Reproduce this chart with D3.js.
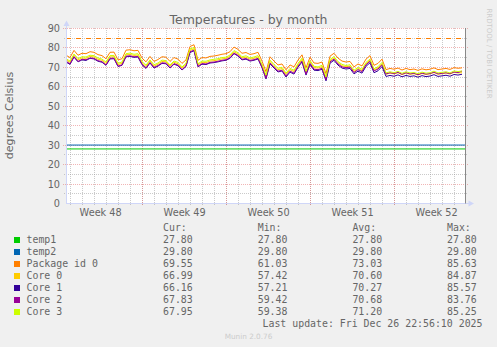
<!DOCTYPE html>
<html>
<head>
<meta charset="utf-8">
<script src="https://cdn.jsdelivr.net/npm/d3@7"></script>
<style>
  html, body { margin: 0; padding: 0; background: #f0f0f0; }
  svg { display: block; }
</style>
</head>
<body>
<svg id="chart" width="497" height="347"></svg>
<script>
// ---- data -------------------------------------------------------------
const seriesNames  = ["temp1", "temp2", "Package id 0", "Core 0", "Core 1", "Core 2", "Core 3"];
const seriesColors = ["#00cc00", "#0066b3", "#ff8000", "#ffcc00", "#330099", "#990099", "#ccff00"];

// 8-hour samples starting at this instant
const sampleStart = Date.UTC(2025, 10, 24, 14, 40);
const sampleStepHours = 8;

const temp1 = [27.8, 27.8];   // flat sensors: first and last sample
const temp2 = [29.8, 29.8];

const packageId0 = [76.0,74.8,78.5,76.0,77.0,76.8,77.8,77.5,76.3,75.8,
  74.2,77.5,77.6,73.6,74.2,78.6,78.8,78.3,78.5,74.5,
  72.6,75.4,72.8,73.8,75.2,75.0,72.8,74.8,74.0,71.8,
  73.6,80.5,81.4,73.4,74.8,74.6,75.4,75.6,76.0,76.5,
  76.8,77.8,80.2,79.0,77.0,77.4,76.4,76.8,77.5,73.0,
  67.5,75.2,73.0,71.0,71.5,68.5,71.0,70.0,73.5,76.2,
  69.5,75.0,72.0,71.8,72.5,66.5,75.5,77.0,74.5,73.0,
  72.5,72.8,70.0,71.5,70.5,74.0,75.8,70.8,71.8,74.0,
  68.6,69.2,68.8,69.4,68.4,69.2,68.6,68.9,68.2,69.0,
  68.5,68.8,69.5,68.6,68.9,69.2,68.7,69.6,69.3,69.5];

const core0 = [73.6,72.4,76.0,73.6,74.6,74.4,75.4,75.1,73.9,73.4,
  71.8,75.1,75.2,71.2,71.8,76.2,76.4,75.9,76.1,72.1,
  70.2,73.0,70.4,71.4,72.8,72.6,70.4,72.4,71.6,69.4,
  71.2,78.5,79.3,71.0,72.4,72.2,73.0,73.2,73.6,74.1,
  74.4,75.4,77.8,76.6,74.6,75.0,74.0,74.4,75.1,70.6,
  65.1,72.8,70.6,68.6,69.1,66.1,68.6,67.6,71.1,73.8,
  67.1,72.6,69.6,69.4,70.1,64.1,73.1,74.6,72.1,70.6,
  70.1,70.4,67.6,69.1,68.1,71.6,73.4,68.4,69.4,71.6,
  66.2,66.8,66.4,67.0,66.0,66.8,66.2,66.5,65.8,66.6,
  66.1,66.4,67.1,66.2,66.5,66.8,66.3,67.2,66.9,67.0];

const core1 = [72.5,71.3,75.0,72.6,73.6,73.3,74.4,74.1,72.9,72.4,
  70.8,74.1,74.2,70.2,70.8,75.2,75.4,74.9,75.1,71.1,
  69.2,72.0,69.4,70.4,71.8,71.6,69.4,71.4,70.6,68.4,
  70.2,77.4,78.3,70.0,71.4,71.2,72.0,72.2,72.6,73.1,
  73.4,74.4,76.8,75.6,73.6,74.0,73.0,73.4,74.1,69.6,
  63.8,71.6,69.4,67.4,67.9,64.8,67.3,66.3,69.8,72.5,
  65.8,71.3,68.3,68.1,68.8,62.8,71.9,73.4,70.9,69.4,
  68.9,69.2,66.4,67.8,66.8,70.3,72.1,67.0,68.0,70.2,
  65.1,65.6,65.2,65.9,64.9,65.6,65.1,65.4,64.7,65.5,
  65.0,65.3,66.0,65.1,65.4,65.7,65.2,66.1,65.8,66.2];

const core2 = [72.9,71.6,75.3,72.8,73.9,73.7,74.6,74.4,73.2,72.7,
  71.0,74.4,74.5,70.4,71.0,75.5,75.7,75.2,75.4,71.4,
  69.5,72.3,69.7,70.7,72.1,71.9,69.6,71.7,70.9,68.6,
  70.5,77.8,78.6,70.3,71.7,71.5,72.3,72.5,72.9,73.4,
  73.7,74.7,77.1,75.9,73.9,74.3,73.3,73.7,74.4,69.9,
  64.2,72.0,69.8,67.8,68.3,65.3,67.8,66.8,70.3,73.0,
  66.3,71.8,68.8,68.6,69.3,63.4,72.6,74.0,71.5,70.0,
  69.6,69.9,67.1,68.6,67.6,71.1,72.9,67.9,68.9,71.1,
  66.4,67.0,66.6,67.2,66.2,67.0,66.4,66.7,66.0,66.8,
  66.3,66.6,67.3,66.4,66.7,67.0,66.5,67.4,67.1,67.8];

const core3 = [74.2,73.0,76.6,74.3,75.2,75.1,76.0,75.8,74.6,74.0,
  72.5,75.8,75.9,71.9,72.5,76.8,77.1,76.5,76.8,72.7,
  70.9,73.6,71.1,72.0,73.5,73.2,71.0,73.0,72.3,70.0,
  71.8,79.2,80.0,71.6,73.0,72.9,73.6,73.9,74.2,74.8,
  75.0,76.1,78.4,77.3,75.2,75.7,74.6,75.1,75.8,71.2,
  65.8,73.5,71.2,69.3,69.8,66.8,69.2,68.3,71.7,74.5,
  67.8,73.3,70.3,70.0,70.8,64.8,73.8,75.3,72.7,71.3,
  70.7,71.1,68.3,69.7,68.8,72.3,74.0,69.0,70.1,72.3,
  66.9,67.5,67.0,67.7,66.7,67.5,66.9,67.1,66.5,67.3,
  66.8,67.0,67.8,66.9,67.2,67.5,66.9,67.9,67.6,67.9];

const packageLimit = 85;  // dashed threshold line

// legend statistics
const statHeaders = ["Cur:", "Min:", "Avg:", "Max:"];
const curValues = [27.80, 29.80, 69.55, 66.99, 66.16, 67.83, 67.95];
const minValues = [27.80, 29.80, 61.03, 57.42, 57.21, 59.42, 59.38];
const avgValues = [27.80, 29.80, 73.03, 70.60, 70.27, 70.68, 71.20];
const maxValues = [27.80, 29.80, 85.63, 84.87, 85.57, 83.76, 85.25];

const yTicks = [0, 10, 20, 30, 40, 50, 60, 70, 80, 90];
const yMinorTicks = [5, 15, 25, 35, 45, 55, 65, 75, 85];

const titleText = "Temperatures - by month";
const unitText = "degrees Celsius";
const lastUpdate = "Last update: Fri Dec 26 22:56:10 2025";
const footerText = "Munin 2.0.76";
const sideText = "RRDTOOL / TOBI OETIKER";

// ---- layout -----------------------------------------------------------
const svg = d3.select("#chart");
const sans = "'DejaVu Sans', sans-serif";
const mono = "'DejaVu Sans Mono', monospace";
const textColor = "#666666";
const axisColor = "#cfd6f8";

const hour = 3600 * 1000;
const domainStart = new Date(sampleStart);
const domainEnd = new Date(sampleStart + 400 * 2 * hour);

const x = d3.scaleUtc().domain([domainStart, domainEnd]).range([66, 466]);
const y = d3.scaleLinear().domain([0, 90]).range([203, 28]);

const px = v => Math.floor(x(v)) + 0.5;
const py = v => Math.round(y(v)) + 0.5;

svg.append("rect").attr("width", 497).attr("height", 347).attr("fill", "#f0f0f0");
svg.append("rect").attr("x", 66).attr("y", 28).attr("width", 400).attr("height", 175).attr("fill", "#ffffff");

const grid = svg.append("g");
const minorStroke = "rgba(150,150,150,0.5)";
const majorStroke = "rgba(225,90,90,0.45)";

// daily minor grid
const days = d3.utcDay.range(domainStart, domainEnd);
grid.selectAll(".vday").data(days).join("line")
  .attr("x1", d => px(d)).attr("x2", d => px(d))
  .attr("y1", 28).attr("y2", 205)
  .attr("stroke", minorStroke).attr("stroke-dasharray", "1,1");

// horizontal minor grid
grid.selectAll(".hmin").data(yMinorTicks).join("line")
  .attr("x1", 64).attr("x2", 468)
  .attr("y1", d => py(d)).attr("y2", d => py(d))
  .attr("stroke", minorStroke).attr("stroke-dasharray", "1,1");

// weekly major grid
const mondays = d3.utcMonday.range(domainStart, domainEnd);
grid.selectAll(".vweek").data(mondays).join("line")
  .attr("x1", d => px(d)).attr("x2", d => px(d))
  .attr("y1", 28).attr("y2", 206)
  .attr("stroke", majorStroke).attr("stroke-dasharray", "1,1");

// horizontal major grid
grid.selectAll(".hmaj").data(yTicks.filter(d => d > 0)).join("line")
  .attr("x1", 63).attr("x2", 469)
  .attr("y1", d => py(d)).attr("y2", d => py(d))
  .attr("stroke", majorStroke).attr("stroke-dasharray", "1,1");

// y tick labels
svg.append("g").selectAll("text").data(yTicks).join("text")
  .attr("x", 60).attr("y", d => py(d)).attr("dy", "0.36em")
  .attr("text-anchor", "end")
  .attr("font-family", sans).attr("font-size", "9.72px").attr("fill", textColor)
  .text(d => d);

// week labels, centred in each ISO week
const weekStarts = d3.utcMonday.range(d3.utcDay.offset(domainStart, -7), domainEnd);
const weekLabels = weekStarts
  .map(d => ({ d, mid: new Date(+d + 3.5 * 24 * hour) }))
  .filter(o => o.mid > domainStart && o.mid < domainEnd);
svg.append("g").selectAll("text").data(weekLabels).join("text")
  .attr("x", o => x(o.mid)).attr("y", 216)
  .attr("text-anchor", "middle")
  .attr("font-family", sans).attr("font-size", "9.72px").attr("fill", textColor)
  .text(o => "Week " + d3.utcFormat("%V")(o.d));

// data lines
const timeAt = i => new Date(sampleStart + i * sampleStepHours * hour);
const line = d3.line().x(d => x(d[0])).y(d => y(d[1]));

const seriesData = [
  [[domainStart, temp1[0]], [domainEnd, temp1[1]]],
  [[domainStart, temp2[0]], [domainEnd, temp2[1]]],
  packageId0.map((v, i) => [timeAt(i), v]),
  core0.map((v, i) => [timeAt(i), v]),
  core1.map((v, i) => [timeAt(i), v]),
  core2.map((v, i) => [timeAt(i), v]),
  core3.map((v, i) => [timeAt(i), v])
];

svg.append("clipPath").attr("id", "plotclip")
  .append("rect").attr("x", 66).attr("y", 20).attr("width", 400).attr("height", 184);
const lines = svg.append("g").attr("clip-path", "url(#plotclip)");

seriesData.forEach((s, i) => {
  lines.append("path")
    .attr("d", line(s))
    .attr("fill", "none")
    .attr("stroke", seriesColors[i])
    .attr("stroke-width", 1);
});

// threshold line for the package sensor
svg.append("line")
  .attr("x1", 66).attr("x2", 466)
  .attr("y1", py(packageLimit)).attr("y2", py(packageLimit))
  .attr("stroke", seriesColors[2]).attr("stroke-dasharray", "5,5");

// axes and arrows
svg.append("line").attr("x1", 66.5).attr("x2", 66.5).attr("y1", 203.5).attr("y2", 23)
  .attr("stroke", axisColor);
svg.append("line").attr("x1", 66).attr("x2", 470).attr("y1", 203.5).attr("y2", 203.5)
  .attr("stroke", axisColor);
svg.append("path").attr("d", "M66.5,20.5L63.5,26L69.5,26Z").attr("fill", axisColor);
svg.append("path").attr("d", "M474,203.5L468.5,200.5L468.5,206.5Z").attr("fill", axisColor);

// end-of-graph marker
svg.append("line").attr("x1", 465.5).attr("x2", 465.5).attr("y1", 28).attr("y2", 203.5)
  .attr("stroke", "#888888");

// title and unit label
svg.append("text").attr("x", 248.5).attr("y", 24).attr("text-anchor", "middle")
  .attr("font-family", sans).attr("font-size", "12.5px").attr("fill", textColor)
  .text(titleText);
svg.append("text")
  .attr("transform", "translate(13,115.5) rotate(-90)")
  .attr("text-anchor", "middle")
  .attr("font-family", sans).attr("font-size", "11.1px").attr("fill", textColor)
  .text(unitText);
svg.append("text")
  .attr("transform", "translate(486.5,53.5) rotate(90)")
  .attr("text-anchor", "middle")
  .attr("font-family", sans).attr("font-size", "7px").attr("fill", "#cccccc")
  .text(sideText);

// legend
const legend = svg.append("g").attr("font-family", mono).attr("font-size", "9.9px").attr("fill", textColor);
const colX = [163, 257.7, 352.4, 447];
legend.selectAll(".hdr").data(statHeaders).join("text")
  .attr("x", (d, i) => colX[i]).attr("y", 231).text(d => d);

const rows = seriesNames.map((n, i) => ({
  name: n, color: seriesColors[i],
  vals: [curValues[i], minValues[i], avgValues[i], maxValues[i]]
}));
const row = legend.selectAll(".row").data(rows).join("g")
  .attr("transform", (d, i) => `translate(0,${243 + 12 * i})`);
row.append("rect").attr("x", 14).attr("y", -6).attr("width", 6).attr("height", 6)
  .attr("fill", d => d.color);
row.append("text").attr("x", 26.5).attr("y", 0).text(d => d.name);
row.selectAll(".v").data(d => d.vals).join("text")
  .attr("x", (d, i) => colX[i]).attr("y", 0).text(d => d.toFixed(2));

legend.append("text").attr("x", 482.5).attr("y", 327).attr("text-anchor", "end").text(lastUpdate);

svg.append("text").attr("x", 248.5).attr("y", 339).attr("text-anchor", "middle")
  .attr("font-family", sans).attr("font-size", "7.3px").attr("fill", "#cccccc")
  .text(footerText);
</script>
</body>
</html>
